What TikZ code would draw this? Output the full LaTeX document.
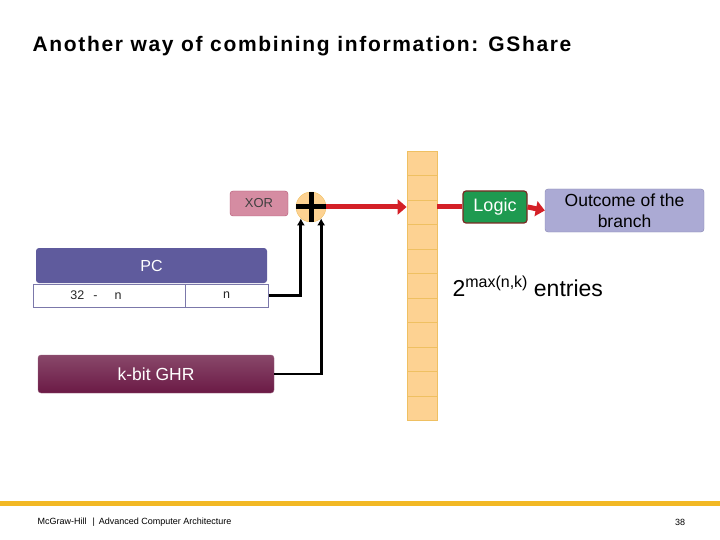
\documentclass[tikz,border=0pt]{standalone}
\usepackage{fontspec}
\setmainfont{Liberation Sans}
\usetikzlibrary{arrows.meta,positioning}
\definecolor{pcfill}{HTML}{5F5B9D}
\definecolor{pcline}{HTML}{7B78AA}
\definecolor{ghrfill}{HTML}{6B1A45}
\definecolor{xorfill}{HTML}{D58CA2}
\definecolor{xorline}{HTML}{B2536F}
\definecolor{tabfill}{HTML}{FDD292}
\definecolor{tabline}{HTML}{EFC062}
\definecolor{arrred}{HTML}{D42027}
\definecolor{logicfill}{HTML}{1E9A50}
\definecolor{logicline}{HTML}{7A2A22}
\definecolor{outfill}{HTML}{ABAAD4}
\definecolor{outcomeline}{HTML}{8584B0}
\definecolor{barcol}{HTML}{F2B824}
\newcommand{\fsz}[1]{\fontsize{#1}{#1}\selectfont}
\tikzset{
  box/.style={rounded corners=3pt, inner sep=0pt, text=white},
  cellbox/.style={draw=pcline, fill=white, line width=1pt, minimum height=23pt,
    inner sep=0pt, text=black!85, font=\fsz{12.5}},
  entry/.style={draw=tabline, fill=tabfill, minimum width=30pt, minimum height=24.5pt,
    inner sep=0pt, line width=0.8pt},
  wire/.style={line width=2.7pt, black, -{Latex[length=7pt,width=8pt]}},
  redline/.style={line width=5pt, arrred},
  redarrow/.style={redline, -{Triangle[length=9pt,width=15pt]}}
}

\begin{document}
\begin{tikzpicture}
    [x=1pt, y=-1pt]
    \useasboundingbox (0,0) rectangle (720,540);
    \node[anchor=west, font=\bfseries\fsz{21}\addfontfeature{LetterSpace=8}] (title) at (29,46)
        {Another way of combining information: GShare};

    % prediction table
    \foreach \i in {0,...,10}
        \node[entry] (t\i) at (422,163.25+24.5*\i) {};

    \node[box, draw=xorline, fill=xorfill, text=black!75, minimum width=58pt,
        minimum height=25pt, font=\fsz{13}] (xorlabel) at (259,203.5) {XOR};
    \node[circle, fill=tabfill, draw=tabline, minimum size=30pt, inner sep=0pt] (xor) at (311,207) {};
    \draw[line width=5pt] (xor.north) -- (xor.south) (xor.west) -- (xor.east);
    \draw[redarrow] (xor.east) -- (xor.east -| t2.west);

    \node[box, draw=logicline, fill=logicfill, line width=1.2pt, minimum width=64pt,
        minimum height=32pt, font=\fsz{18}] (logic) at (495,207) {Logic};
    \node[box, draw=outcomeline, fill=outfill, text=black, minimum width=159pt,
        minimum height=43pt, align=center, font=\fontsize{17.5}{21}\selectfont] (outcome) at (624.5,210.5)
        {Outcome of the\\branch};
    \draw[redline] (logic.west -| t2.east) -- (logic.west);
    \draw[redarrow] (logic.east) -- (outcome.west);

    \node[anchor=base west, font=\fsz{23}] (entries) at (449,296)
        {2\raisebox{8.5pt}{\fsz{16}max(n,k)} entries};

    % PC and history register
    \node[box, fill=pcfill, minimum width=231pt, minimum height=35pt, font=\fsz{16}] (pc) at (151.5,265.5) {PC};
    \node[cellbox, minimum width=152pt] (pchigh) at (109,295.5) {32\hspace{9pt}-\hspace{17pt}n\hspace{26pt}\mbox{}};
    \node[cellbox, minimum width=83pt, right=-1pt of pchigh] (pclow) {n};
    \node[box, draw=ghrfill!70!white, top color=ghrfill!80!white, bottom color=ghrfill,
        minimum width=236pt, minimum height=38pt, font=\fsz{17.5}] (ghr) at (156,374) {k-bit GHR};

    \draw[wire] (pclow.east) -| (xor.228);
    \draw[wire] (ghr.east) -| (xor.312);

    % footer
    \fill[barcol] (0,501) rectangle (720,506);
    \node[anchor=west, font=\fsz{9}] (publisher) at (34,522)
        {McGraw-Hill\hspace{6pt}|\hspace{4pt}Advanced Computer Architecture};
    \node[font=\fsz{9}] (pagenum) at (680,522) {38};
\end{tikzpicture}
\end{document}
